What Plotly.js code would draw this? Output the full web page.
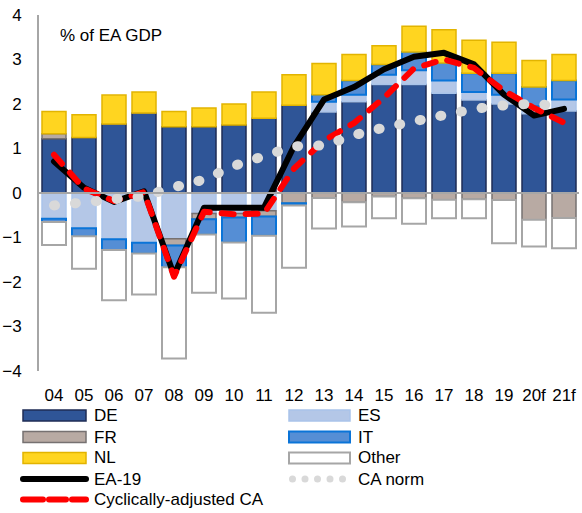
<!DOCTYPE html>
<html><head><meta charset="utf-8">
<script src="https://cdn.plot.ly/plotly-3.0.1.min.js"></script>
<style>html,body{margin:0;padding:0;background:#fff}#chart{width:582px;height:513px}</style>
</head><body><div id="chart"></div>
<script>
const years = ['04','05','06','07','08','09','10','11','12','13','14','15','16','17','18','19','20f','21f'];
const DE = [1.22,1.25,1.55,1.80,1.49,1.49,1.53,1.68,1.97,1.82,2.05,2.44,2.44,2.24,2.09,2.00,1.78,1.84];
const ES = [-0.58,-0.79,-1.04,-1.12,-1.03,-0.46,-0.46,-0.40,0,0.23,0.16,0.22,0.32,0.29,0.18,0.21,0.17,0.26];
const FR = [0.11,0,0,0,-0.15,-0.13,-0.09,-0.13,-0.23,-0.11,-0.21,-0.08,-0.12,-0.15,-0.14,-0.16,-0.60,-0.56];
const IT = [-0.07,-0.18,-0.24,-0.24,-0.49,-0.34,-0.56,-0.43,-0.05,0.16,0.32,0.23,0.41,0.39,0.42,0.48,0.43,0.43];
const NL = [0.50,0.51,0.65,0.47,0.34,0.42,0.47,0.59,0.69,0.70,0.58,0.42,0.58,0.75,0.74,0.70,0.60,0.58];
const OTHER = [-0.52,-0.73,-1.13,-0.92,-2.05,-1.31,-1.26,-1.73,-1.40,-0.69,-0.54,-0.49,-0.57,-0.42,-0.43,-0.97,-0.60,-0.68];
const EA19 = [0.71,0.12,-0.20,0.04,-1.85,-0.33,-0.33,-0.33,1.05,2.10,2.38,2.78,3.06,3.15,2.89,2.21,1.74,1.89];
const CA_ADJ = [0.86,0.10,-0.18,0.02,-1.88,-0.42,-0.48,-0.46,0.55,1.18,1.57,2.14,2.80,3.00,2.81,2.30,1.91,1.58];
const CA_NORM = [-0.28,-0.20,-0.12,-0.07,0.13,0.30,0.61,0.84,1.05,1.07,1.30,1.47,1.61,1.75,1.89,1.97,2.01,1.93];
const yTicks = [-4,-3,-2,-1,0,1,2,3,4];

const FONT = 'Liberation Sans, Arial, sans-serif';
const barStyles = {
  DE: {fill:'#2F5597', line:'#1F2D55', w:1.5},
  ES: {fill:'#B4C7E7', line:'#A9C4EA', w:1.5},
  FR: {fill:'#B8AAA3', line:'#767171', w:1.5},
  IT: {fill:'#558ED5', line:'#0A74D8', w:2},
  NL: {fill:'#FFD520', line:'#E2B400', w:1.5},
  Other: {fill:'#FFFFFF', line:'#A6A6A6', w:2}
};
function bar(name, y){
  const s = barStyles[name];
  return {type:'bar', name:name, x:years, y:y, showlegend:false,
    marker:{color:s.fill, line:{color:s.line, width:s.w}}, hoverinfo:'skip'};
}
const traces = [
  bar('DE', DE), bar('ES', ES), bar('FR', FR), bar('IT', IT), bar('NL', NL), bar('Other', OTHER),
  {type:'scatter', mode:'lines', name:'EA-19', x:years, y:EA19, showlegend:false,
   line:{color:'#000000', width:6}},
  {type:'scatter', mode:'lines', name:'Cyclically-adjusted CA', x:years, y:CA_ADJ, showlegend:false,
   line:{color:'#FF0000', width:6, dash:'12px,12px'}},
  {type:'scatter', mode:'lines', name:'CA norm', x:years, y:CA_NORM, showlegend:false,
   line:{color:'#D9D9D9', width:10, dash:'1px,20px'}}
];

const L=39, R=579, T=15, B=371;
const px = x => (x-L)/(R-L);
const py = y => (B-y)/(B-T);

const shapes = [], annotations = [];
const legendEntries = [
  {name:'DE', kind:'bar', col:0, row:0},
  {name:'ES', kind:'bar', col:1, row:0},
  {name:'FR', kind:'bar', col:0, row:1},
  {name:'IT', kind:'bar', col:1, row:1},
  {name:'NL', kind:'bar', col:0, row:2},
  {name:'Other', kind:'bar', col:1, row:2},
  {name:'EA-19', kind:'line', col:0, row:3},
  {name:'CA norm', kind:'dots', col:1, row:3},
  {name:'Cyclically-adjusted CA', kind:'dash', col:0, row:4}
];
const colX = [[23,86,92],[289,350,356]];
const rowY = [415.5,437,458,479,499.5];
legendEntries.forEach(e => {
  const [x0,x1,tx] = colX[e.col];
  const yc = rowY[e.row];
  if(e.kind==='bar'){
    const s = barStyles[e.name];
    shapes.push({type:'rect', xref:'paper', yref:'paper', x0:px(x0), x1:px(x1), y0:py(yc+5.5), y1:py(yc-5.5),
      fillcolor:s.fill, line:{color:s.line, width:s.w}});
  } else if(e.kind==='line'){
    shapes.push({type:'line', xref:'paper', yref:'paper', x0:px(x0), x1:px(x1), y0:py(yc), y1:py(yc),
      line:{color:'#000', width:6}});
  } else if(e.kind==='dash'){
    [[x0,x0+20],[x0+26,x0+43],[x0+49,x1]].forEach(([a,b]) => shapes.push({type:'line', xref:'paper', yref:'paper',
      x0:px(a), x1:px(b), y0:py(yc), y1:py(yc), line:{color:'#FF0000', width:6}}));
  } else {
    for(let i=0;i<5;i++){
      const cx = x0 + 3.5 + i*12.5;
      shapes.push({type:'circle', xref:'paper', yref:'paper', x0:px(cx-3.5), x1:px(cx+3.5), y0:py(yc+3.5), y1:py(yc-3.5),
        fillcolor:'#D9D9D9', line:{width:0}});
    }
  }
  annotations.push({xref:'paper', yref:'paper', x:px(tx), y:py(yc), xanchor:'left', yanchor:'middle',
    text:e.name, showarrow:false, font:{family:FONT, size:17, color:'#000'}});
});
annotations.push({xref:'paper', yref:'paper', x:px(58), y:py(35), xanchor:'left', yanchor:'middle',
  text:'% of EA GDP', showarrow:false, font:{family:FONT, size:17, color:'#000'}});

const layout = {
  width:582, height:513,
  margin:{l:L, r:582-R, t:T, b:513-B, pad:0},
  paper_bgcolor:'#fff', plot_bgcolor:'#fff',
  barmode:'relative', bargap:0.2,
  font:{family:FONT, color:'#000'},
  showlegend:false,
  xaxis:{type:'category', range:[-0.5,17.5], showgrid:false, showline:false, zeroline:false,
    ticks:'', tickfont:{size:17, family:FONT}, ticklabelstandoff:12, fixedrange:true},
  yaxis:{range:[-4,4], tickvals:yTicks, showgrid:false, showline:true, linecolor:'#A6A6A6', linewidth:2,
    zeroline:true, zerolinecolor:'#A6A6A6', zerolinewidth:2, zerolinelayer:'above traces',
    ticks:'', tickfont:{size:17, family:FONT}, ticklabelstandoff:12, fixedrange:true},
  shapes:shapes, annotations:annotations
};
Plotly.newPlot('chart', traces, layout, {displayModeBar:false, staticPlot:true}).then(() => {
  document.querySelectorAll('.scatterlayer .js-line').forEach(p => {
    p.style.strokeLinecap = 'round';
    p.style.strokeLinejoin = 'round';
  });
  document.querySelectorAll('.shapelayer path').forEach(p => {
    if(p.style.stroke && (p.style.stroke.indexOf('255, 0, 0')>=0 || p.style.stroke.indexOf('0, 0, 0')>=0)) {
      p.style.strokeLinecap = 'round';
    }
  });
});
</script>
</body></html>
